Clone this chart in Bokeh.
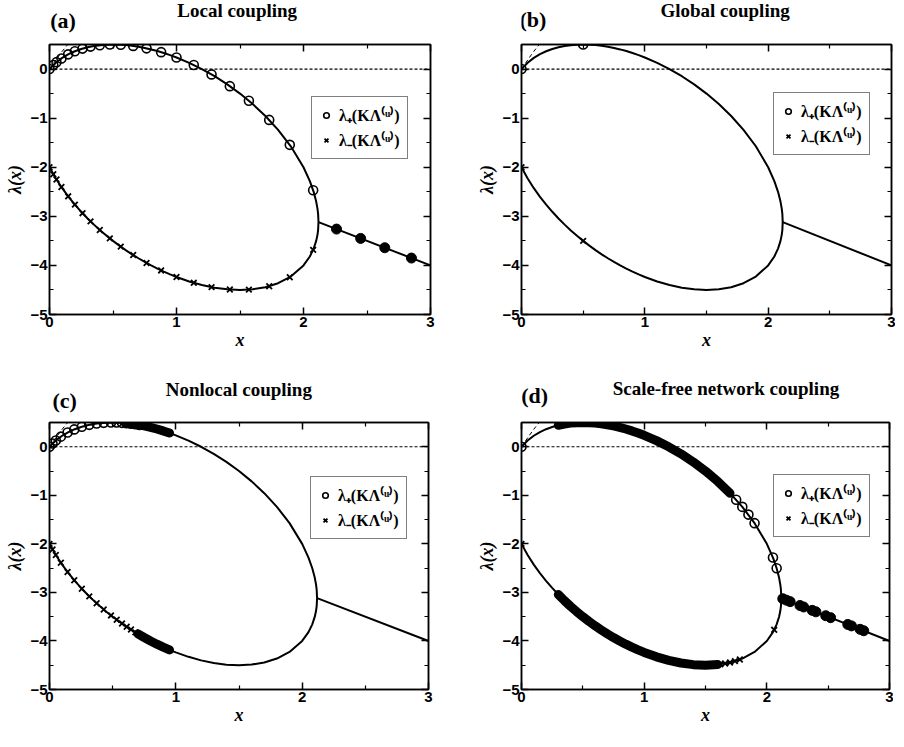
from bokeh.plotting import figure
from bokeh.layouts import row, column
from bokeh.models import (Range1d, FixedTicker, LinearAxis, Span, Legend, LegendItem,
                          CustomJSTickFormatter)
from bokeh.core.properties import value
from bokeh.embed import file_html
from bokeh.resources import INLINE

# ---------------- data ----------------
x_ticks = [0, 1, 2, 3]
x_minor = [0.5, 1.5, 2.5]
y_ticks = [-5, -4, -3, -2, -1, 0]
y_minor = [-4.5, -3.5, -2.5, -1.5, -0.5]

# master stability curve lambda_+/-(x)
curve_x = [0.0, 0.05, 0.1, 0.15, 0.2, 0.25, 0.3, 0.35, 0.4, 0.45, 0.5, 0.55, 0.6, 0.65, 0.7,
           0.75, 0.8, 0.85, 0.9, 0.95, 1.0, 1.1, 1.2, 1.3, 1.4, 1.5, 1.6, 1.7, 1.8, 1.9, 2.0,
           2.05, 2.08, 2.1, 2.11, 2.115, 2.118]
upper_y = [0.000, 0.129, 0.227, 0.303, 0.362, 0.408, 0.444, 0.469, 0.487, 0.497, 0.500, 0.497,
           0.488, 0.474, 0.454, 0.429, 0.400, 0.366, 0.327, 0.284, 0.236, 0.127, 0.000, -0.146,
           -0.312, -0.500, -0.713, -0.956, -1.238, -1.573, -2.000, -2.282, -2.502, -2.700,
           -2.842, -2.950, -3.118]
lower_y = [-2.000, -2.229, -2.427, -2.603, -2.762, -2.908, -3.044, -3.169, -3.287, -3.397, -3.500,
           -3.597, -3.688, -3.774, -3.854, -3.929, -4.000, -4.066, -4.127, -4.184, -4.236, -4.327,
           -4.400, -4.454, -4.488, -4.500, -4.487, -4.444, -4.362, -4.227, -4.000, -3.818, -3.658,
           -3.500, -3.378, -3.280, -3.118]
tail_x = [2.118, 3.0]
tail_y = [-3.118, -4.0]
dash_x = [0.0, 0.06, 0.1, 0.15]
dash_y = [0.0, 0.22, 0.36, 0.52]

# (a) local coupling
a_x = [0, 0.03, 0.055, 0.094, 0.147, 0.2, 0.26, 0.323, 0.396, 0.475, 0.561, 0.659, 0.764, 0.879,
       1.0, 1.136, 1.276, 1.42, 1.57, 1.73, 1.892, 2.076]
a_up = [0, 0.082, 0.140, 0.216, 0.299, 0.362, 0.416, 0.457, 0.486, 0.499, 0.496, 0.471, 0.422,
        0.344, 0.236, 0.083, -0.109, -0.348, -0.646, -1.036, -1.544, -2.469]
a_lo = [-2, -2.142, -2.250, -2.404, -2.593, -2.762, -2.936, -3.103, -3.278, -3.449, -3.618, -3.789,
        -3.950, -4.102, -4.236, -4.355, -4.443, -4.492, -4.494, -4.424, -4.240, -3.683]
a_re_x = [2.26, 2.45, 2.64, 2.85]
a_re_y = [-3.26, -3.45, -3.64, -3.85]

# (b) global coupling
b_x = [0, 0.5]
b_up = [0, 0.5]
b_lo = [-2, -3.5]

# (c) nonlocal coupling
c_x = [0, 0.024, 0.05, 0.09, 0.143, 0.196, 0.256, 0.315, 0.373, 0.429, 0.487, 0.532, 0.574,
       0.611, 0.645, 0.68, 0.712]
c_up = [0, 0.067, 0.129, 0.209, 0.293, 0.358, 0.413, 0.452, 0.478, 0.493, 0.500, 0.499, 0.493,
        0.485, 0.475, 0.463, 0.449]
c_lo = [-2, -2.115, -2.229, -2.389, -2.579, -2.750, -2.925, -3.082, -3.224, -3.351, -3.474,
        -3.563, -3.641, -3.707, -3.765, -3.823, -3.873]
c_band_up = (0.6, 0.95)
c_band_lo = (0.7, 0.95)

# (d) scale-free network coupling
d_up_x = [0, 1.75, 1.8, 1.85, 1.9, 2.05, 2.08]
d_up_y = [0, -1.092, -1.238, -1.397, -1.573, -2.282, -2.502]
d_lo_x = [0, 1.62, 1.66, 1.70, 1.74, 1.78, 2.06]
d_lo_y = [-2, -4.481, -4.465, -4.444, -4.416, -4.382, -3.771]
d_re_x = [2.13, 2.16, 2.19, 2.27, 2.30, 2.37, 2.40, 2.48, 2.52, 2.66, 2.69, 2.76, 2.79]
d_re_y = [-3.13, -3.16, -3.19, -3.27, -3.30, -3.37, -3.40, -3.48, -3.52, -3.66, -3.69, -3.76, -3.79]
d_band_up = (0.3, 1.7)
d_band_lo = (0.3, 1.6)

titles = ["Local coupling", "Global coupling", "Nonlocal coupling", "Scale-free network coupling"]
tags = ["(a)", "(b)", "(c)", "(d)"]
leg_up = "λ₊(KΛ⁽ᵘ⁾)"
leg_lo = "λ₋(KΛ⁽ᵘ⁾)"

SANS = "Liberation Sans"
SERIF = "Liberation Serif"


def band(rng, ys):
    lo, hi = rng
    idx = [i for i, v in enumerate(curve_x) if lo - 1e-9 <= v <= hi + 1e-9]
    return [curve_x[i] for i in idx], [ys[i] for i in idx]


def style_axis(ax, labels=True):
    ax.major_tick_in = 7
    ax.major_tick_out = 0
    ax.minor_tick_in = 4
    ax.minor_tick_out = 0
    ax.axis_line_color = "black"
    ax.axis_line_width = 1.5
    ax.major_tick_line_color = "black"
    ax.major_tick_line_width = 1.5
    ax.minor_tick_line_color = "black"
    ax.minor_tick_line_width = 1.2
    if labels:
        ax.major_label_text_font = SANS
        ax.major_label_text_font_style = "bold"
        ax.major_label_text_font_size = "15px"
        ax.major_label_text_color = "black"
        ax.major_label_standoff = 2
        ax.axis_label_text_font = SERIF
        ax.axis_label_text_font_style = "bold italic"
        ax.axis_label_text_font_size = "18px"
        ax.axis_label_text_color = "black"
    else:
        ax.formatter = CustomJSTickFormatter(code="return ''")
        ax.major_label_standoff = 0


def header(width, height, title, tag, title_xy, tag_xy):
    # a strip above each panel; its ranges are pixel units of the strip
    h = figure(width=width, height=height, min_border=0, min_border_left=0,
               min_border_right=0, min_border_top=0, min_border_bottom=0,
               x_axis_location=None, y_axis_location=None,
               x_range=Range1d(0, width), y_range=Range1d(0, height),
               output_backend="svg", toolbar_location=None, tools="")
    h.outline_line_color = None
    h.xgrid.visible = False
    h.ygrid.visible = False
    h.text(x=[title_xy[0]], y=[title_xy[1]], text=[title], text_font=value(SERIF),
           text_font_style="bold", text_font_size="19px", text_align="center",
           text_baseline="middle", text_color="black")
    h.text(x=[tag_xy[0]], y=[tag_xy[1]], text=[tag], text_font=value(SERIF),
           text_font_style="bold", text_font_size="22px", text_align="center",
           text_baseline="middle", text_color="black")
    return h


def panel(fw, fh, bl, br, bt, bb, leg_xy, up, lo, real=None, bands=None):
    xt = FixedTicker(ticks=x_ticks, minor_ticks=x_minor)
    yt = FixedTicker(ticks=y_ticks, minor_ticks=y_minor)
    p = figure(frame_width=fw, frame_height=fh, min_border_left=bl, min_border_right=br,
               min_border_top=bt, min_border_bottom=bb,
               x_range=Range1d(0, 3), y_range=Range1d(-5, 0.5),
               output_backend="svg", toolbar_location=None, tools="")
    p.xgrid.visible = False
    p.ygrid.visible = False
    p.outline_line_color = "black"
    p.outline_line_width = 1.5
    p.background_fill_color = "white"
    p.border_fill_color = "white"

    p.xaxis.ticker = xt
    p.yaxis.ticker = yt
    style_axis(p.xaxis[0])
    style_axis(p.yaxis[0])
    p.xaxis.axis_label = "x"
    p.xaxis.axis_label_standoff = 0
    p.yaxis.axis_label = "λ(x)"
    p.yaxis.axis_label_standoff = 2
    top = LinearAxis(ticker=FixedTicker(ticks=x_ticks, minor_ticks=x_minor))
    style_axis(top, labels=False)
    p.add_layout(top, "above")
    right = LinearAxis(ticker=FixedTicker(ticks=y_ticks, minor_ticks=y_minor))
    style_axis(right, labels=False)
    p.add_layout(right, "right")

    p.add_layout(Span(location=0, dimension="width", line_color="black",
                      line_dash="3 2", line_width=1.2))
    p.line(dash_x, dash_y, line_color="black", line_width=1, line_dash="4 3")
    p.line(curve_x, upper_y, line_color="black", line_width=2)
    p.line(curve_x, lower_y, line_color="black", line_width=2)
    p.line(tail_x, tail_y, line_color="black", line_width=2)

    if bands:
        for rng, ys in bands:
            bx, by = band(rng, ys)
            p.line(bx, by, line_color="black", line_width=9, line_cap="round")

    r_up = p.scatter(up[0], up[1], marker="circle", size=9, fill_color=None,
                     line_color="black", line_width=1.6)
    r_lo = p.scatter(lo[0], lo[1], marker="x", size=8, line_color="black", line_width=1.8)
    if real:
        p.scatter(real[0], real[1], marker="circle", size=10, fill_color="black",
                  line_color="black")

    legend = Legend(items=[LegendItem(label=leg_up, renderers=[r_up]),
                           LegendItem(label=leg_lo, renderers=[r_lo])],
                    location=leg_xy, margin=0, padding=7, spacing=3,
                    glyph_width=14, glyph_height=20, label_height=20, label_standoff=6,
                    label_text_font=SERIF, label_text_font_style="bold",
                    label_text_font_size="16px", label_text_color="black",
                    border_line_color="black", border_line_width=1.5,
                    background_fill_color="white", background_fill_alpha=1.0)
    p.add_layout(legend)
    return p


ha = header(472, 40, titles[0], tags[0], (235, 30), (17, 20))
pa = panel(381, 270, 45, 46, 4, 64, (262, 155), (a_x, a_up), (a_x, a_lo), real=(a_re_x, a_re_y))
hc = header(472, 40, titles[2], tags[2], (237, 29), (19, 18))
pc = panel(379, 267, 49, 44, 4, 40, (261, 150), (c_x, c_up), (c_x, c_lo),
           bands=[(c_band_up, upper_y), (c_band_lo, lower_y)])

hb = header(416, 40, titles[1], tags[1], (232, 30), (13, 21))
pb = panel(370, 270, 42, 4, 4, 64, (252, 159), (b_x, b_up), (b_x, b_lo))
hd = header(416, 40, titles[3], tags[3], (233, 30), (15, 23))
pd = panel(368, 267, 44, 4, 4, 40, (252, 152), (d_up_x, d_up_y), (d_lo_x, d_lo_y),
           real=(d_re_x, d_re_y), bands=[(d_band_up, upper_y), (d_band_lo, lower_y)])

layout = row(column(ha, pa, hc, pc), column(hb, pb, hd, pd))

with open("out.html", "w") as f:
    f.write(file_html(layout, INLINE))
